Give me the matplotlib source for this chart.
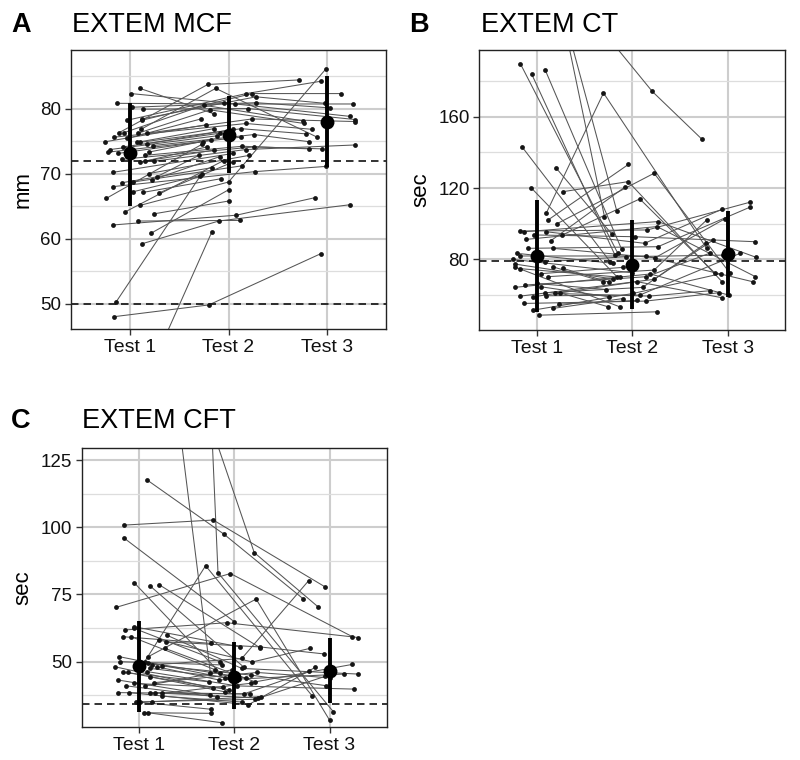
import numpy as np
import matplotlib
matplotlib.use("Agg")
import matplotlib.pyplot as plt
from matplotlib.ticker import MultipleLocator, FixedLocator

plt.rcParams['font.family'] = ['Liberation Sans', 'DejaVu Sans']

N = None
categories = ["Test 1", "Test 2", "Test 3"]

# ---------------- Panel A: EXTEM MCF (mm) ----------------
A_t1 = [83.1, 82.3, 80.8, 80.2, 79.9, 78.4, 78.2, 78.2, 76.8, 76.3, 76.3, 76.2, 76.2, 75.6, 75.4, 74.9, 74.8,
        74.8, 74.6, 74.3, 74.1, 73.7, 73.3, 73.3, 73.1, 72.8, 72.2, 71.9, 71.9, 71.8, 70.2, 70.0, 69.5, 69.0,
        68.7, 68.6, 68.0, 67.2, 67.1, 67.0, 66.2, 65.1, 64.1, 63.8, 62.1, 59.2, 62.7, 60.8, 50.3, 48.0, 36.2]
A_j1 = [0.10, 0.01, -0.13, 0.02, 0.13, 0.12, 0.12, -0.03, 0.11, -0.11, -0.06, 0.08, 0.17, -0.16, -0.03, -0.25, 0.07,
        0.10, 0.17, 0.23, -0.07, -0.20, -0.22, 0.19, -0.12, 0.15, -0.08, 0.15, 0.24, 0.10, -0.17, 0.19, 0.27, 0.22,
        0.03, -0.08, -0.17, 0.03, 0.13, 0.29, -0.24, 0.10, -0.05, 0.24, -0.17, 0.12, 0.08, 0.21, -0.14, -0.16, 0.10]
A_t2 = [79.2, 80.9, 80.7, 80.9, 80.0, 81.8, 82.3, 82.3, 83.1, 83.7, 80.5, 79.8, 78.4, 77.7, 78.4, 77.5, 76.9,
        76.9, 76.8, 76.0, 76.2, 75.8, 75.6, 75.2, 74.9, 74.2, 74.1, 74.1, 73.7, 73.6, 73.1, 72.8, 72.8, 72.6,
        71.2, 70.9, 70.3, 69.7, 69.2, 71.8, 74.5, 68.7, 72.0, 65.8, 63.6, 62.7, 62.8, 67.5, 70.0, 49.8, 61.0]
A_j2 = [-0.15, -0.05, 0.07, 0.28, 0.20, 0.28, 0.24, 0.18, -0.13, -0.21, -0.25, -0.19, 0.24, 0.18, -0.28, -0.23, -0.15,
        0.13, 0.05, 0.26, -0.09, -0.12, 0.13, -0.18, -0.26, 0.14, 0.26, -0.22, 0.18, -0.15, 0.05, 0.21, -0.30, -0.09,
        0.14, -0.17, 0.27, -0.29, -0.08, 0.05, -0.27, 0.00, -0.05, 0.01, 0.08, -0.10, 0.12, 0.00, -0.27, -0.20, -0.17]
A_t3 = [N, 78.8, 80.7, 80.1, 78.3, 80.8, 82.3, 84.2, 75.6, 84.4, 78.1, 77.7, 78.0, 76.8, N, N, N,
        76.1, N, 74.9, N, N, N, N, N, 73.8, 73.8, N, 74.4, N, N, N, N, N,
        N, N, 71.1, N, N, N, N, 86.1, N, N, 66.3, 65.2, N, N, N, 57.7, N]
A_j3 = [N, 0.23, 0.26, 0.03, 0.29, -0.02, 0.14, -0.06, -0.10, -0.28, -0.24, -0.23, 0.29, -0.15, N, N, N,
        -0.21, N, -0.18, N, N, N, N, N, -0.18, -0.05, N, 0.29, N, N, N, N, N,
        N, N, -0.01, N, N, N, N, -0.01, N, N, -0.12, 0.23, N, N, N, -0.06, N]
A_mean = [73.1, 76.0, 78.0]
A_lo = [65.0, 70.1, 71.0]
A_hi = [80.9, 81.9, 85.0]
A_ref = [72, 50]

# ---------------- Panel B: EXTEM CT (sec) ----------------
B_t1 = [189.7, 183.7, 186.2, 142.9, 120.3, 131.5, 118.0, 255.6, 245.7, 247.0, 105.8, 102.1, 99.9, 90.5, 93.7, 81.9,
        83.4, 77.4, 75.8, 74.8, 95.9, 95.5, 91.2, 86.2, 93.7, 95.5, 86.2, 75.8, 74.9, 78.7, 70.3, 64.3, 65.6, 59.4,
        66.5, 59.0, 64.6, 61.3, 59.6, 60.9, 61.3, 55.3, 51.5, 48.7, 52.5, 54.9, 72.0, 80.0]
B_j1 = [-0.17, -0.05, 0.09, -0.15, -0.06, 0.20, 0.28, 0.12, 0.14, 0.10, 0.10, 0.12, 0.21, 0.15, 0.27, -0.17,
        -0.21, -0.23, -0.23, -0.17, -0.17, -0.13, -0.11, -0.09, -0.03, 0.10, 0.17, 0.17, 0.28, 0.09, 0.12, -0.23, -0.12, -0.17,
        0.00, -0.04, 0.05, 0.09, 0.10, 0.19, 0.24, -0.13, -0.04, 0.02, 0.17, 0.23, 0.05, -0.25]
B_t2 = [83.4, 82.4, 85.6, 78.7, 70.3, 94.0, 123.6, 104.0, 107.0, 174.2, 173.3, 133.2, 128.3, 120.4, 113.9, 81.9,
        77.8, 69.0, 53.4, 70.0, 96.5, 101.2, 98.4, 87.1, 92.7, 89.0, 80.9, 67.5, 67.2, 81.5, 74.0, 71.8, 70.3, 68.8,
        63.1, 67.5, 59.0, 64.3, 60.0, 59.4, 53.4, 56.6, 60.9, 50.6, 58.0, 57.0, 75.5, 72.5]
B_j2 = [-0.15, -0.18, -0.11, -0.23, -0.16, -0.21, -0.04, -0.29, -0.16, 0.21, -0.30, -0.04, 0.23, -0.08, 0.08, 0.14,
        -0.20, -0.20, -0.13, -0.13, 0.16, 0.27, 0.26, 0.27, 0.03, 0.13, 0.24, -0.30, -0.24, -0.06, 0.23, 0.19, 0.15, 0.23,
        -0.27, 0.05, -0.24, 0.11, 0.08, 0.18, -0.25, 0.14, 0.01, 0.26, -0.10, 0.05, -0.10, 0.00]
B_t3 = [N, N, N, N, N, N, 67.5, N, N, 147.4, 86.2, N, 72.5, N, 72.1, 67.5,
        N, N, N, N, 112.0, 81.1, 70.3, 109.2, 89.9, 108.1, 102.7, N, N, 82.4, 102.1, 60.0, 83.4, 90.9,
        N, 58.5, N, 89.0, 83.4, 62.4, N, 61.3, 72.0, N, N, N, N, N]
B_j3 = [N, N, N, N, N, N, -0.06, N, N, -0.27, -0.22, N, 0.02, N, -0.13, 0.26,
        N, N, N, N, 0.23, 0.30, 0.29, 0.23, 0.29, -0.06, -0.03, N, N, -0.05, -0.22, 0.01, -0.19, -0.15,
        N, -0.06, N, -0.23, 0.13, -0.19, N, -0.09, -0.07, N, N, N, N, N]
B_mean = [81.9, 76.8, 83.0]
B_lo = [50.6, 51.9, 59.0]
B_hi = [113.3, 102.1, 107.3]
B_ref = [79.3]

# ---------------- Panel C: EXTEM CFT (sec) ----------------
C_t1 = [117.5, 100.8, 96.1, 79.4, 78.1, 78.7, 70.2, 201.7, 555.0, 187.4, 51.9, 50.0, 61.8, 63.0, 62.4, 59.3, 59.3,
        58.1, 57.4, 59.9, 55.0, 51.9, 48.1, 46.0, 46.0, 43.2, 41.0, 38.5, 38.5, 35.1, 35.1, 31.0, 31.0, 48.8,
        48.1, 48.4, 46.3, 44.4, 42.2, 38.5, 38.5, 38.2, 37.2, 35.1, 49.6, 41.0, 41.9, 50.0, 47.5]
C_j1 = [0.09, -0.16, -0.16, -0.05, 0.12, 0.21, -0.24, 0.20, 0.25, 0.28, 0.10, 0.06, -0.15, -0.05, -0.05, -0.17, -0.08,
        0.21, 0.28, 0.29, 0.27, -0.21, -0.25, -0.17, -0.11, -0.22, -0.13, -0.22, -0.10, -0.03, 0.01, 0.05, 0.10, 0.14,
        0.19, 0.24, 0.09, 0.12, 0.16, 0.12, 0.17, 0.24, 0.24, 0.14, 0.10, 0.06, -0.05, -0.20, 0.12]
C_t2 = [97.5, 102.7, 64.9, 45.9, 48.0, 55.2, 82.8, 45.8, 83.1, 90.6, 73.3, 85.7, 64.5, 55.5, 50.0, 56.8, 47.0,
        49.9, 55.5, 47.5, 42.5, 44.0, 40.2, 42.5, 38.8, 37.6, 36.9, 38.0, 34.0, 32.3, 36.0, 30.8, 27.3, 51.2,
        43.2, 45.0, 41.0, 39.5, 46.0, 36.5, 38.0, 42.0, 35.0, 37.0, 44.0, 47.0, 40.5, 48.8, 43.5]
C_j2 = [-0.11, -0.22, 0.00, -0.15, 0.10, 0.27, -0.04, -0.25, -0.17, 0.21, 0.23, -0.30, -0.08, 0.06, -0.15, -0.24, -0.20,
        0.19, 0.27, 0.08, 0.22, -0.10, -0.22, -0.26, -0.10, -0.25, -0.18, 0.10, 0.15, -0.24, 0.22, -0.24, -0.13, 0.08,
        -0.16, 0.18, 0.03, -0.05, 0.24, 0.25, 0.17, 0.18, 0.08, 0.28, 0.12, -0.02, -0.12, -0.13, 0.05]
C_t3 = [73.5, 77.9, N, N, N, N, 59.3, N, 31.4, 70.4, 28.3, 37.2, 59.0, N, N, N, N,
        55.0, 52.9, 45.4, 49.0, N, N, N, N, N, N, 46.5, 47.9, N, 44.5, N, N, 80.1,
        45.4, 41.1, 39.8, N, 44.0, N, N, N, N, N, N, N, N, N, N]
C_j3 = [-0.28, -0.05, N, N, N, N, 0.24, N, 0.04, -0.12, 0.00, -0.18, 0.30, N, N, N, N,
        -0.20, -0.06, 0.30, 0.24, N, N, N, N, N, N, -0.21, -0.15, N, -0.05, N, N, -0.22,
        0.15, -0.04, 0.26, N, 0.00, N, N, N, N, N, N, N, N, N, N]
C_mean = [48.4, 44.4, 46.5]
C_lo = [31.4, 32.4, 34.5]
C_hi = [65.1, 57.4, 58.7]
C_ref = [34.4]

fig = plt.figure(figsize=(8.0, 7.6), dpi=100)
fig.patch.set_facecolor('white')


def panel(rect, t1, j1, t2, j2, t3, j3, mean, lo, hi, refs, ylim, major, ylabel):
    ax = fig.add_axes(rect)
    ax.set_xlim(0.4, 3.6)
    ax.set_ylim(*ylim)
    ax.set_facecolor('white')
    ax.yaxis.set_major_locator(MultipleLocator(major))
    ax.yaxis.set_minor_locator(MultipleLocator(major / 2))
    ax.xaxis.set_major_locator(FixedLocator([1, 2, 3]))
    ax.set_xticklabels(categories)
    ax.grid(True, which='major', color='#cdcdcd', lw=1.5, zorder=0)
    ax.grid(True, which='minor', axis='y', color='#dddddd', lw=0.9, zorder=0)
    ax.set_axisbelow(True)
    for s in ax.spines.values():
        s.set_color('#222222')
        s.set_linewidth(1.0)
    ax.tick_params(axis='both', which='major', length=4, width=1.0, color='#333333',
                   labelcolor='#111111')
    ax.tick_params(axis='x', labelsize=14, pad=3)
    ax.tick_params(axis='y', labelsize=13.5, pad=3)
    ax.tick_params(axis='y', which='minor', length=0)
    for r in refs:
        ax.axhline(r, color='#111111', lw=1.2, ls=(0, (4.5, 3)), zorder=2.5)
    series = [(t1, j1), (t2, j2), (t3, j3)]
    n = len(t1)
    px, py = [], []
    for i in range(n):
        xs, ys = [], []
        for k, (vals, jits) in enumerate(series):
            if vals[i] is not None:
                xs.append(k + 1 + jits[i])
                ys.append(vals[i])
        ax.plot(xs, ys, color='#555555', lw=0.75, zorder=2, solid_capstyle='round')
        px += xs
        py += ys
    ax.scatter(px, py, s=12, color='#151515', zorder=3, linewidths=0)
    xc = np.arange(1, 4)
    ax.vlines(xc, lo, hi, color='black', lw=2.8, zorder=4)
    ax.scatter(xc, mean, s=100, color='black', zorder=5, linewidths=0)
    ax.set_ylabel(ylabel, fontsize=16, labelpad=5)
    return ax


axA = panel([71/800, 1-329/760, 315/800, 279/760], A_t1, A_j1, A_t2, A_j2, A_t3, A_j3,
            A_mean, A_lo, A_hi, A_ref, (46.1, 89.0), 10, 'mm')
axB = panel([479.3/800, 1-330/760, 305.7/800, 280/760], B_t1, B_j1, B_t2, B_j2, B_t3, B_j3,
            B_mean, B_lo, B_hi, B_ref, (40.4, 197.4), 40, 'sec')
axC = panel([81.7/800, 1-727.3/760, 305/800, 279.6/760], C_t1, C_j1, C_t2, C_j2, C_t3, C_j3,
            C_mean, C_lo, C_hi, C_ref, (25.6, 129.6), 25, 'sec')

for letter, title, xl, xt, ytop in [("A", "EXTEM MCF", 11, 72, 32),
                                     ("B", "EXTEM CT", 409, 481, 32),
                                     ("C", "EXTEM CFT", 11, 82, 428)]:
    fig.text(xl/800, 1-ytop/760, letter, fontsize=19.5, fontweight='bold', ha='left', va='baseline')
    fig.text(xt/800, 1-ytop/760, title, fontsize=19.5, ha='left', va='baseline')

fig.savefig('out.png', dpi=100, facecolor='white')
